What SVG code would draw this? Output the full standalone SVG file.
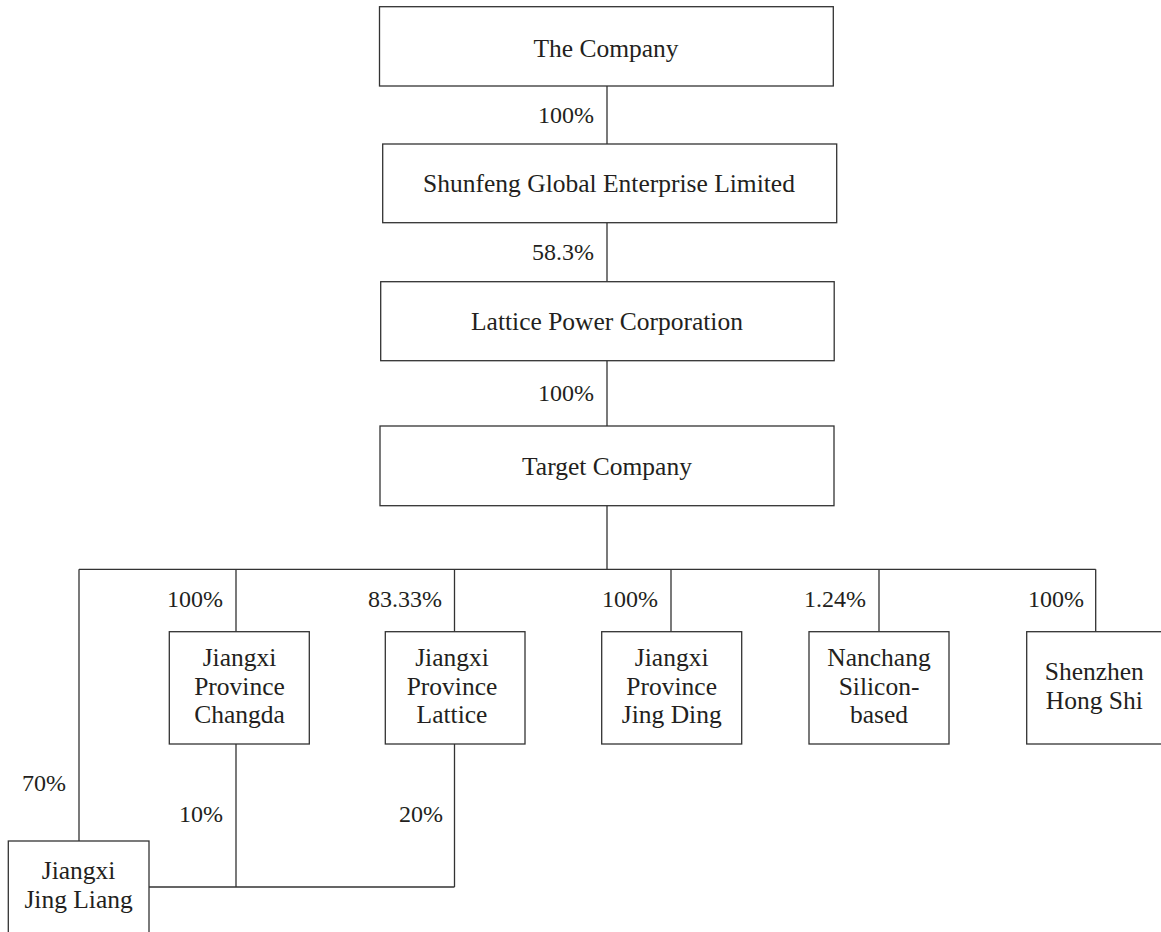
<svg xmlns="http://www.w3.org/2000/svg" width="1161" height="932" viewBox="0 0 1161 932">
<style>
.box{fill:#fff;stroke:#333;stroke-width:1.3}
.ln{fill:none;stroke:#333;stroke-width:1.3}
text{font-family:"Liberation Serif","Times New Roman",serif;font-size:25.5px;fill:#231f20}
.c{text-anchor:middle}
.r{text-anchor:end;font-size:24px}
</style>
<rect width="1161" height="932" fill="#fff"/>
<g id="connectors">
<path class="ln" d="M607 86V144M607 222.7V281.7M607 360.7V426M607 505.7V569.3M79 569.3H1095.7M79 569.3V841M236 569.3V631.7M454.5 569.3V631.7M671 569.3V631.7M879 569.3V631.7M1095.7 569.3V631.7M236 744V887M454.5 744V887M149 887H454.5"/>
<text class="r" x="594" y="122.7">100%</text>
<text class="r" x="594" y="260">58.3%</text>
<text class="r" x="594" y="400.7">100%</text>
<text class="r" x="223" y="606.7">100%</text>
<text class="r" x="442" y="606.7">83.33%</text>
<text class="r" x="658" y="606.7">100%</text>
<text class="r" x="866" y="606.7">1.24%</text>
<text class="r" x="1084" y="606.7">100%</text>
<text class="r" x="66" y="790.7">70%</text>
<text class="r" x="223" y="821.7">10%</text>
<text class="r" x="443" y="821.7">20%</text>
</g>
<g id="company">
<rect class="box" x="379.5" y="6.7" width="453.8" height="79.3"/>
<text class="c" x="606" y="56.5">The Company</text>
</g>
<g id="shunfeng">
<rect class="box" x="382.7" y="144" width="454" height="78.7"/>
<text class="c" x="609" y="191.7">Shunfeng Global Enterprise Limited</text>
</g>
<g id="lattice-power">
<rect class="box" x="380.7" y="281.7" width="453.5" height="79"/>
<text class="c" x="607" y="330">Lattice Power Corporation</text>
</g>
<g id="target">
<rect class="box" x="380" y="426" width="454" height="79.7"/>
<text class="c" x="607" y="475">Target Company</text>
</g>
<g id="changda">
<rect class="box" x="169.3" y="631.7" width="140" height="112.3"/>
<text class="c" x="239.5" y="666">Jiangxi</text>
<text class="c" x="239.5" y="695">Province</text>
<text class="c" x="239.5" y="723.3">Changda</text>
</g>
<g id="jx-lattice">
<rect class="box" x="385.3" y="631.7" width="139.7" height="112.3"/>
<text class="c" x="452" y="666">Jiangxi</text>
<text class="c" x="452" y="695">Province</text>
<text class="c" x="452" y="723.3">Lattice</text>
</g>
<g id="jing-ding">
<rect class="box" x="601.7" y="631.7" width="140" height="112.3"/>
<text class="c" x="671.7" y="666">Jiangxi</text>
<text class="c" x="671.7" y="695">Province</text>
<text class="c" x="671.7" y="723.3">Jing Ding</text>
</g>
<g id="nanchang">
<rect class="box" x="809" y="631.7" width="140" height="112.3"/>
<text class="c" x="879" y="666">Nanchang</text>
<text class="c" x="879" y="695">Silicon-</text>
<text class="c" x="879" y="723.3">based</text>
</g>
<g id="shenzhen">
<rect class="box" x="1026.7" y="631.7" width="140" height="112.3"/>
<text class="c" x="1094.3" y="680">Shenzhen</text>
<text class="c" x="1094.3" y="709.3">Hong Shi</text>
</g>
<g id="jing-liang">
<rect class="box" x="8.3" y="841" width="140.7" height="100"/>
<text class="c" x="78.6" y="879.3">Jiangxi</text>
<text class="c" x="78.6" y="908.3">Jing Liang</text>
</g>
</svg>
